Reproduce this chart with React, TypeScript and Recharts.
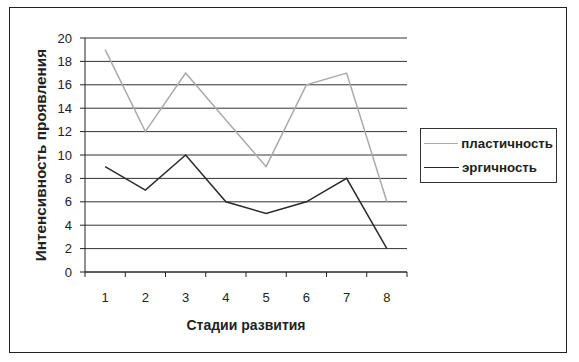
import React from "react";
import { LineChart, Line, XAxis, YAxis, CartesianGrid, Legend } from "recharts";

const stages = [1, 2, 3, 4, 5, 6, 7, 8];
const plasticity = [19, 12, 17, 13, 9, 16, 17, 6];
const ergicity = [9, 7, 10, 6, 5, 6, 8, 2];
const yTicks = [0, 2, 4, 6, 8, 10, 12, 14, 16, 18, 20];
const xTicks = [0.5, 1, 1.5, 2, 2.5, 3, 3.5, 4, 4.5, 5, 5.5, 6, 6.5, 7, 7.5, 8, 8.5];

const FONT = '"Liberation Sans", Arial, sans-serif';

const data = stages.map((s, i) => ({
  stage: s,
  plasticity: plasticity[i],
  ergicity: ergicity[i],
}));

const StageTick = (props: any) => {
  const { x, y, payload } = props;
  const v = payload.value;
  if (Number.isInteger(v)) {
    return (
      <text x={x} y={y + 22} textAnchor="middle" fontSize={13} fill="#222" fontFamily={FONT}>
        {v}
      </text>
    );
  }
  return <line x1={x} x2={x} y1={y - 8} y2={y - 3} stroke="#222" strokeWidth={1} />;
};

const LegendBox = (props: any) => {
  const items = props.payload || [];
  return (
    <div
      style={{
        border: "1px solid #333",
        background: "#fff",
        padding: "2px 3px 3px 3px",
        fontFamily: FONT,
        fontSize: 13.3,
        fontWeight: "bold",
        color: "#222",
      }}
    >
      {items.map((it: any) => (
        <div key={it.value} style={{ display: "flex", alignItems: "center", height: 24 }}>
          <span style={{ display: "inline-block", width: 35, height: 0, borderTop: `1.5px solid ${it.color}`, marginRight: 3 }} />
          <span>{it.value}</span>
        </div>
      ))}
    </div>
  );
};

export default function App() {
  return (
    <div style={{ position: "absolute", left: 0, top: 0, width: 579, height: 362, background: "#fff" }}>
      <div
        style={{
          position: "absolute",
          left: 9,
          top: 7,
          width: 556,
          height: 344,
          border: "1px solid #222",
        }}
      />
      <div style={{ position: "absolute", left: 0, top: 0 }}>
        <LineChart width={579} height={362} data={data} margin={{ top: 38, right: 172, left: 0, bottom: 0 }}>
          <CartesianGrid vertical={false} stroke="#333" strokeWidth={1} />
          <XAxis
            dataKey="stage"
            type="number"
            domain={[0.5, 8.5]}
            ticks={xTicks}
            interval={0}
            height={90}
            tickLine={false}
            axisLine={{ stroke: "#222" }}
            tick={<StageTick />}
            label={{
              value: "Стадии развития",
              position: "center",
              dy: 8,
              style: { fontFamily: FONT, fontSize: 14, fontWeight: "bold", fill: "#222" },
            }}
          />
          <YAxis
            domain={[0, 20]}
            ticks={yTicks}
            interval={0}
            width={85}
            tickSize={5}
            tickMargin={8}
            axisLine={{ stroke: "#222" }}
            tickLine={{ stroke: "#222" }}
            tick={{ fontSize: 13, fill: "#222", fontFamily: FONT }}
            label={{
              value: "Интенсивность проявления",
              angle: -90,
              position: "center",
              dx: -2,
              style: { fontFamily: FONT, fontSize: 15.3, fontWeight: "bold", fill: "#222", textAnchor: "middle" },
            }}
          />
          <Legend
            layout="horizontal"
            verticalAlign="middle"
            align="center"
            content={<LegendBox />}
            wrapperStyle={{ left: 420, top: 128, width: 137 }}
          />
          <Line
            type="linear"
            dataKey="plasticity"
            name="пластичность"
            stroke="#aaa"
            strokeWidth={1.5}
            dot={false}
            isAnimationActive={false}
          />
          <Line
            type="linear"
            dataKey="ergicity"
            name="эргичность"
            stroke="#2a2a2a"
            strokeWidth={1.5}
            dot={false}
            isAnimationActive={false}
          />
        </LineChart>
      </div>
    </div>
  );
}
